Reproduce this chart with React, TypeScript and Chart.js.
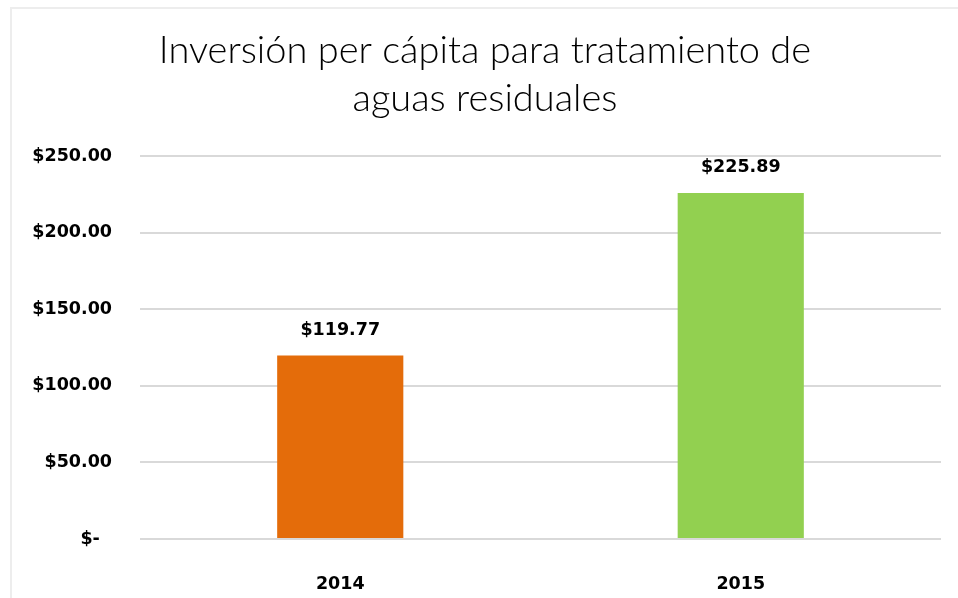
import React, { useEffect, useRef } from "react";
import { Chart, registerables } from "chart.js";

Chart.register(...registerables);

const titleLines = ["Inversión per cápita para tratamiento de", "aguas residuales"];
const categories = ["2014", "2015"];
const values = [119.77, 225.89];
const barColors = ["#E46C0A", "#92D050"];
const yMin = 0;
const yMax = 250;
const yStep = 50;

const fmt = (v: number) =>
  v === 0 ? "$-  " : "$" + v.toFixed(2).replace(/\B(?=(\d{3})+(?!\d))/g, ",");

const LABEL_FONT = "'DejaVu Sans', sans-serif";
const LABEL_SIZE = 17.5;

const frame = {
  id: "frame",
  beforeDraw(chart: any) {
    const { ctx, width, height } = chart;
    ctx.save();
    ctx.fillStyle = "#ffffff";
    ctx.fillRect(0, 0, width, height);
    ctx.strokeStyle = "#EDEDED";
    ctx.lineWidth = 2;
    ctx.strokeRect(11, 8, width + 20, height + 20);
    ctx.restore();
  },
};

const dataLabels = {
  id: "dataLabels",
  afterDatasetsDraw(chart: any) {
    const { ctx } = chart;
    ctx.save();
    ctx.font = `bold ${LABEL_SIZE}px ${LABEL_FONT}`;
    ctx.fillStyle = "#000000";
    ctx.textAlign = "center";
    ctx.textBaseline = "middle";
    chart.data.datasets.forEach((ds: any, i: number) => {
      const meta = chart.getDatasetMeta(i);
      meta.data.forEach((bar: any, j: number) => {
        ctx.fillText(fmt(ds.data[j]), bar.x, bar.y - 25);
      });
    });
    ctx.restore();
  },
};

export default function App() {
  const ref = useRef<HTMLCanvasElement | null>(null);
  useEffect(() => {
    if (!ref.current) return;
    const chart = new Chart(ref.current, {
      type: "bar",
      data: {
        labels: categories,
        datasets: [
          {
            data: values,
            backgroundColor: barColors,
            categoryPercentage: 1,
            barPercentage: 0.315,
          },
        ],
      },
      options: {
        animation: false,
        responsive: true,
        maintainAspectRatio: false,
        layout: { padding: { left: 29, right: 17, top: 0, bottom: 0 } },
        plugins: {
          legend: { display: false },
          tooltip: { enabled: false },
          title: {
            display: true,
            text: titleLines,
            color: "#000000",
            font: { family: "Lato, sans-serif", size: 38, weight: "300", lineHeight: 1.263 },
            padding: { top: 27, bottom: 33 },
          },
        },
        scales: {
          x: {
            grid: { display: false },
            border: { display: false },
            ticks: {
              color: "#000000",
              font: { family: LABEL_FONT, size: LABEL_SIZE, weight: "bold" },
              padding: 27,
            },
            afterFit(scale: any) {
              scale.height = 59;
            },
          },
          y: {
            min: yMin,
            max: yMax,
            border: { display: false },
            grid: { color: "#D9D9D9", lineWidth: 2, drawTicks: false },
            ticks: {
              stepSize: yStep,
              color: "#000000",
              font: { family: LABEL_FONT, size: LABEL_SIZE, weight: "bold" },
              padding: 28,
              callback: (v: any) => fmt(Number(v)),
            },
            afterFit(scale: any) {
              scale.width = 111;
            },
          },
        },
      },
      plugins: [frame, dataLabels],
    });
    return () => chart.destroy();
  }, []);
  return (
    <div style={{ position: "fixed", left: 0, top: 0, width: 958, height: 598, background: "#fff" }}>
      <canvas ref={ref} />
    </div>
  );
}
